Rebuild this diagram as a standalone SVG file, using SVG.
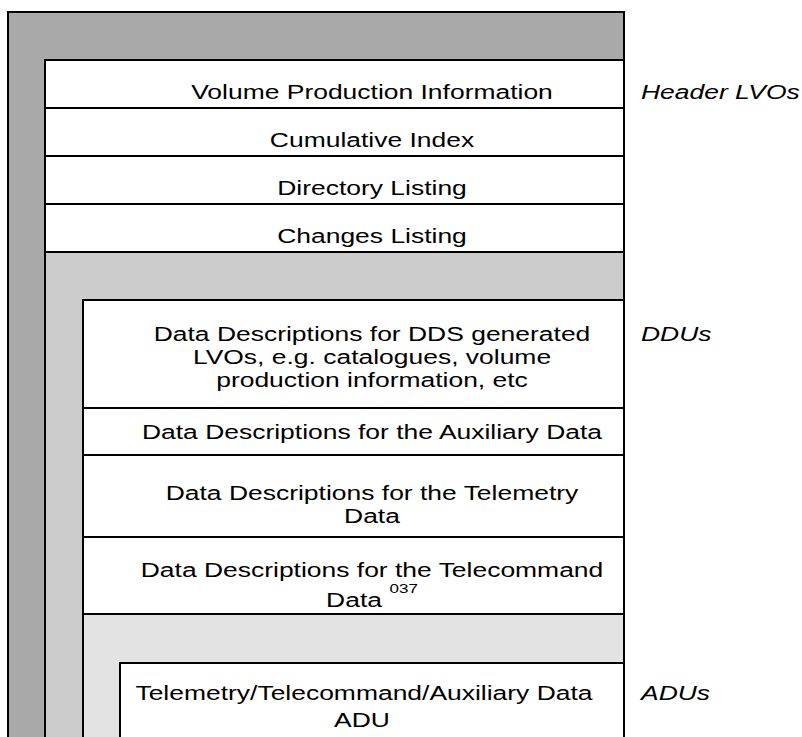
<svg xmlns="http://www.w3.org/2000/svg" width="802" height="737" viewBox="0 0 802 737">
  <style>
    .frame { stroke: #000; stroke-width: 2; }
    .l1 { fill: #a9a9a9; }
    .l2 { fill: #cccccc; }
    .l3 { fill: #e3e3e3; }
    .cell { fill: #fff; }
    text { font-family: "Liberation Sans", Arial, sans-serif; font-size: 21px; fill: #000; }
    .c { text-anchor: middle; }
    .lbl { font-style: italic; }
    .sup { font-size: 13.5px; }
  </style>
  <rect width="802" height="737" fill="#fff"/>

  <!-- outer volume frame -->
  <g id="volume">
    <rect class="frame l1" x="8" y="12" width="616" height="760"/>
  </g>

  <!-- header LVOs -->
  <g id="vol-production">
    <rect class="frame cell" x="45" y="60" width="579" height="48"/>
    <text class="c" transform="translate(372,99) scale(1.26,1)">Volume Production Information</text>
  </g>
  <g id="cumulative-index">
    <rect class="frame cell" x="45" y="108" width="579" height="48"/>
    <text class="c" transform="translate(372,147) scale(1.26,1)">Cumulative Index</text>
  </g>
  <g id="directory-listing">
    <rect class="frame cell" x="45" y="156" width="579" height="48"/>
    <text class="c" transform="translate(372,195) scale(1.26,1)">Directory Listing</text>
  </g>
  <g id="changes-listing">
    <rect class="frame cell" x="45" y="204" width="579" height="48"/>
    <text class="c" transform="translate(372,243) scale(1.26,1)">Changes Listing</text>
  </g>

  <!-- DDU container -->
  <g id="ddu-area">
    <rect class="frame l2" x="45" y="252" width="579" height="520"/>
  </g>
  <g id="ddu-dds">
    <rect class="frame cell" x="83" y="300" width="541" height="108"/>
    <text class="c" transform="translate(372,340.5) scale(1.26,1)">Data Descriptions for DDS generated</text>
    <text class="c" transform="translate(372,363.5) scale(1.26,1)">LVOs, e.g. catalogues, volume</text>
    <text class="c" transform="translate(372,386.5) scale(1.26,1)">production information, etc</text>
  </g>
  <g id="ddu-aux">
    <rect class="frame cell" x="83" y="408" width="541" height="47"/>
    <text class="c" transform="translate(372,439) scale(1.26,1)">Data Descriptions for the Auxiliary Data</text>
  </g>
  <g id="ddu-tm">
    <rect class="frame cell" x="83" y="455" width="541" height="82"/>
    <text class="c" transform="translate(372,500) scale(1.26,1)">Data Descriptions for the Telemetry</text>
    <text class="c" transform="translate(372,523) scale(1.26,1)">Data</text>
  </g>
  <g id="ddu-tc">
    <rect class="frame cell" x="83" y="537" width="541" height="77"/>
    <text class="c" transform="translate(372,577) scale(1.26,1)">Data Descriptions for the Telecommand</text>
    <text class="c" transform="translate(372,607) scale(1.26,1)">Data<tspan class="sup" dx="6" dy="-14">037</tspan></text>
  </g>

  <!-- ADU container -->
  <g id="adu-area">
    <rect class="frame l3" x="83" y="614" width="541" height="160"/>
  </g>
  <g id="adu">
    <rect class="frame cell" x="120" y="663" width="504" height="110"/>
    <text class="c" transform="translate(364,700) scale(1.26,1)">Telemetry/Telecommand/Auxiliary Data</text>
    <text class="c" transform="translate(362,727) scale(1.26,1)">ADU</text>
  </g>

  <!-- side labels -->
  <g id="labels">
    <text class="lbl" transform="translate(641,99) scale(1.26,1)">Header LVOs</text>
    <text class="lbl" transform="translate(641,341) scale(1.26,1)">DDUs</text>
    <text class="lbl" transform="translate(641,700) scale(1.26,1)">ADUs</text>
  </g>
</svg>
